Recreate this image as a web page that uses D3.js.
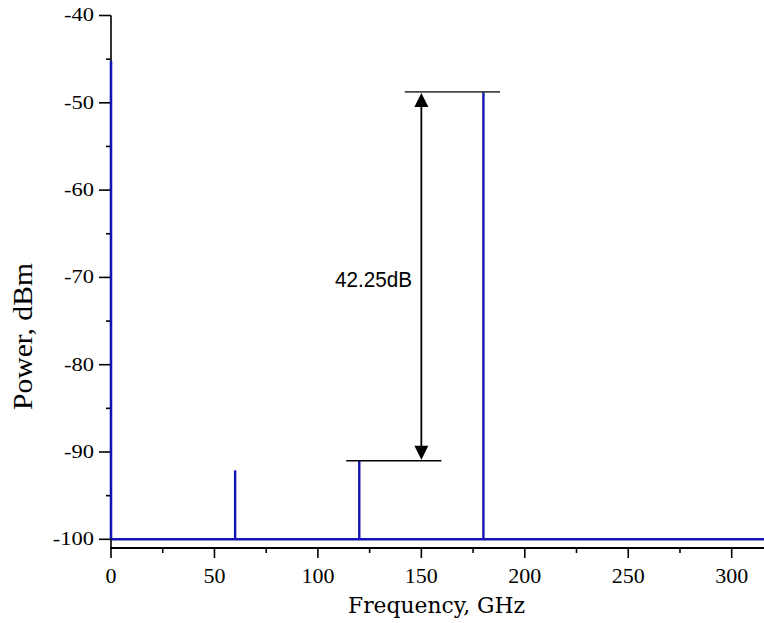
<!DOCTYPE html>
<html>
<head>
<meta charset="utf-8">
<script src="https://cdn.jsdelivr.net/npm/d3@7"></script>
<style>
  html, body { margin: 0; padding: 0; background: #fff; }
  svg { display: block; }
  .serif { font-family: "Liberation Serif", "Times New Roman", Times, serif; }
  .wide-serif { font-family: "DejaVu Serif", serif; }
  .sans { font-family: "Liberation Sans", Arial, sans-serif; }
</style>
</head>
<body>
<svg id="chart" width="764" height="623"></svg>
<script>
// Spectral lines: frequency (GHz) and peak power (dBm)
const freqs = [0, 60, 120, 180];
const powers = [-45.2, -92.1, -91.0, -48.75];
const floorPower = -100;

// Axis ticks
const xTicks = [0, 50, 100, 150, 200, 250, 300];
const yTicks = [-40, -50, -60, -70, -80, -90, -100];

// Power-difference annotation between the 120 GHz and 180 GHz lines
const markerFreq = 150;
const markerLabel = "42.25dB";
const topBar = [142, 188];        // horizontal reference at the 180 GHz peak
const bottomBar = [113.7, 159.7]; // horizontal reference at the 120 GHz peak

const svg = d3.select("#chart");
const x = d3.scaleLinear().domain([0, 300]).range([111, 731.7]);
const y = d3.scaleLinear().domain([-100, -40]).range([539.3, 15.5]);
const xEnd = 764;
const axisY = 548;
const blue = "#1414b4";

// Spectrum: noise floor plus the discrete lines
svg.append("line")
  .attr("x1", x(0)).attr("x2", xEnd)
  .attr("y1", y(floorPower)).attr("y2", y(floorPower))
  .attr("stroke", blue).attr("stroke-width", 2.6);

svg.selectAll("line.peak").data(freqs).join("line")
  .attr("class", "peak")
  .attr("x1", d => x(d)).attr("x2", d => x(d))
  .attr("y1", y(floorPower)).attr("y2", (d, i) => y(powers[i]))
  .attr("stroke", blue).attr("stroke-width", 2.4);

// Y axis
const gy = svg.append("g");
gy.append("line").attr("x1", x(0)).attr("x2", x(0))
  .attr("y1", y(-40)).attr("y2", axisY)
  .attr("stroke", "#000").attr("stroke-width", 1.6);
// redraw the DC line over the axis
svg.append("line")
  .attr("x1", x(0)).attr("x2", x(0))
  .attr("y1", y(floorPower)).attr("y2", y(powers[0]))
  .attr("stroke", blue).attr("stroke-width", 2.2);

const yMinor = d3.range(-95, -40, 10);
gy.selectAll("line.ymaj").data(yTicks).join("line")
  .attr("x1", x(0) - 12).attr("x2", x(0))
  .attr("y1", d => y(d)).attr("y2", d => y(d))
  .attr("stroke", "#000").attr("stroke-width", 1.6);
gy.selectAll("line.ymin").data(yMinor).join("line")
  .attr("x1", x(0) - 5).attr("x2", x(0))
  .attr("y1", d => y(d)).attr("y2", d => y(d))
  .attr("stroke", "#000").attr("stroke-width", 1.6);
gy.selectAll("text").data(yTicks).join("text")
  .attr("class", "serif")
  .attr("transform", d => `translate(94,${y(d)}) scale(1.25,1)`)
  .attr("dy", "0.33em")
  .attr("text-anchor", "end")
  .attr("font-size", 18)
  .text(d => d);

// X axis
const gx = svg.append("g");
gx.append("line").attr("x1", x(0) - 1).attr("x2", xEnd)
  .attr("y1", axisY).attr("y2", axisY)
  .attr("stroke", "#000").attr("stroke-width", 1.8);
const xMinor = d3.range(25, 325, 50);
gx.selectAll("line.xmaj").data(xTicks).join("line")
  .attr("x1", d => x(d)).attr("x2", d => x(d))
  .attr("y1", axisY).attr("y2", axisY + 10)
  .attr("stroke", "#000").attr("stroke-width", 1.6);
gx.selectAll("line.xmin").data(xMinor).join("line")
  .attr("x1", d => x(d)).attr("x2", d => x(d))
  .attr("y1", axisY).attr("y2", axisY + 5)
  .attr("stroke", "#000").attr("stroke-width", 1.6);
gx.selectAll("text").data(xTicks).join("text")
  .attr("class", "serif")
  .attr("x", d => x(d)).attr("y", 583)
  .attr("text-anchor", "middle")
  .attr("font-size", 22)
  .text(d => d);

// Axis titles
svg.append("text")
  .attr("class", "wide-serif")
  .attr("x", 348).attr("y", 613)
  .attr("font-size", 22)
  .attr("textLength", 177)
  .attr("lengthAdjust", "spacingAndGlyphs")
  .text("Frequency, GHz");
svg.append("text")
  .attr("class", "serif")
  .attr("transform", "translate(32,410) rotate(-90)")
  .attr("font-size", 27)
  .attr("textLength", 147)
  .attr("lengthAdjust", "spacingAndGlyphs")
  .text("Power, dBm");

// Annotation: reference bars and double-headed arrow
svg.append("line")
  .attr("x1", x(topBar[0])).attr("x2", x(topBar[1]))
  .attr("y1", y(powers[3])).attr("y2", y(powers[3]))
  .attr("stroke", "#444").attr("stroke-width", 1.6);
svg.append("line")
  .attr("x1", x(bottomBar[0])).attr("x2", x(bottomBar[1]))
  .attr("y1", y(powers[2])).attr("y2", y(powers[2]))
  .attr("stroke", "#000").attr("stroke-width", 1.6);

const ax = x(markerFreq);
const yTop = y(powers[3]);
const yBot = y(powers[2]);
const headL = 15, headW = 7;
svg.append("line")
  .attr("x1", ax).attr("x2", ax)
  .attr("y1", yTop + headL - 1).attr("y2", yBot - headL + 1)
  .attr("stroke", "#000").attr("stroke-width", 1.8);
svg.append("path")
  .attr("d", `M${ax},${yTop + 1} L${ax - headW},${yTop + headL} L${ax + headW},${yTop + headL} Z`)
  .attr("fill", "#000");
svg.append("path")
  .attr("d", `M${ax},${yBot - 1} L${ax - headW},${yBot - headL} L${ax + headW},${yBot - headL} Z`)
  .attr("fill", "#000");

svg.append("text")
  .attr("class", "sans")
  .attr("x", 335).attr("y", 287)
  .attr("font-size", 22)
  .attr("textLength", 77)
  .attr("lengthAdjust", "spacingAndGlyphs")
  .text(markerLabel);
</script>
</body>
</html>
